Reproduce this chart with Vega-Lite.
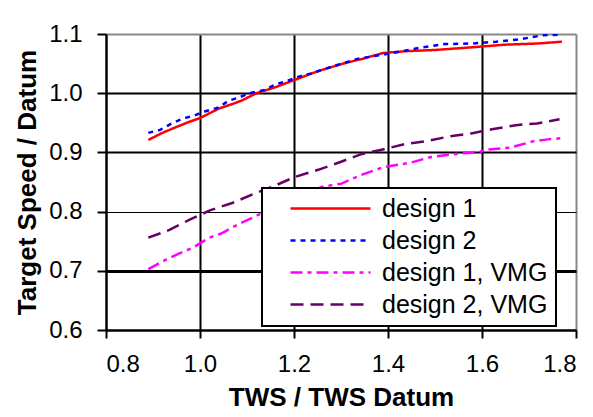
{
  "$schema": "https://vega.github.io/schema/vega-lite/v6.json",
  "width": 470,
  "height": 296,
  "autosize": {"type": "none"},
  "padding": {"left": 106, "top": 34, "right": 17, "bottom": 87},
  "background": "white",
  "config": {
    "view": {"stroke": null},
    "font": "Liberation Sans"
  },
  "data": {
    "values": [
      {"tws": 0.89, "speed": 0.921, "series": "design 1"},
      {"tws": 0.92, "speed": 0.933, "series": "design 1"},
      {"tws": 0.95, "speed": 0.943, "series": "design 1"},
      {"tws": 0.975, "speed": 0.951, "series": "design 1"},
      {"tws": 1.0, "speed": 0.958, "series": "design 1"},
      {"tws": 1.04, "speed": 0.974, "series": "design 1"},
      {"tws": 1.07, "speed": 0.982, "series": "design 1"},
      {"tws": 1.09, "speed": 0.988, "series": "design 1"},
      {"tws": 1.12, "speed": 1.0, "series": "design 1"},
      {"tws": 1.16, "speed": 1.01, "series": "design 1"},
      {"tws": 1.2, "speed": 1.022, "series": "design 1"},
      {"tws": 1.25, "speed": 1.037, "series": "design 1"},
      {"tws": 1.3, "speed": 1.049, "series": "design 1"},
      {"tws": 1.35, "speed": 1.059, "series": "design 1"},
      {"tws": 1.39, "speed": 1.068, "series": "design 1"},
      {"tws": 1.44, "speed": 1.071, "series": "design 1"},
      {"tws": 1.5, "speed": 1.073, "series": "design 1"},
      {"tws": 1.57, "speed": 1.077, "series": "design 1"},
      {"tws": 1.65, "speed": 1.082, "series": "design 1"},
      {"tws": 1.72, "speed": 1.084, "series": "design 1"},
      {"tws": 1.77, "speed": 1.087, "series": "design 1"},

      {"tws": 0.89, "speed": 0.933, "series": "design 2"},
      {"tws": 0.915, "speed": 0.938, "series": "design 2"},
      {"tws": 0.94, "speed": 0.949, "series": "design 2"},
      {"tws": 0.96, "speed": 0.956, "series": "design 2"},
      {"tws": 0.99, "speed": 0.963, "series": "design 2"},
      {"tws": 1.01, "speed": 0.969, "series": "design 2"},
      {"tws": 1.04, "speed": 0.976, "series": "design 2"},
      {"tws": 1.06, "speed": 0.987, "series": "design 2"},
      {"tws": 1.08, "speed": 0.992, "series": "design 2"},
      {"tws": 1.11, "speed": 1.001, "series": "design 2"},
      {"tws": 1.14, "speed": 1.006, "series": "design 2"},
      {"tws": 1.16, "speed": 1.015, "series": "design 2"},
      {"tws": 1.18, "speed": 1.019, "series": "design 2"},
      {"tws": 1.21, "speed": 1.028, "series": "design 2"},
      {"tws": 1.235, "speed": 1.033, "series": "design 2"},
      {"tws": 1.285, "speed": 1.046, "series": "design 2"},
      {"tws": 1.335, "speed": 1.058, "series": "design 2"},
      {"tws": 1.41, "speed": 1.068, "series": "design 2"},
      {"tws": 1.47, "speed": 1.077, "series": "design 2"},
      {"tws": 1.52, "speed": 1.083, "series": "design 2"},
      {"tws": 1.58, "speed": 1.084, "series": "design 2"},
      {"tws": 1.63, "speed": 1.087, "series": "design 2"},
      {"tws": 1.68, "speed": 1.091, "series": "design 2"},
      {"tws": 1.73, "speed": 1.098, "series": "design 2"},
      {"tws": 1.77, "speed": 1.099, "series": "design 2"},

      {"tws": 0.89, "speed": 0.703, "series": "design 1, VMG"},
      {"tws": 0.9, "speed": 0.707, "series": "design 1, VMG"},
      {"tws": 0.93, "speed": 0.72, "series": "design 1, VMG"},
      {"tws": 0.955, "speed": 0.729, "series": "design 1, VMG"},
      {"tws": 0.985, "speed": 0.739, "series": "design 1, VMG"},
      {"tws": 1.02, "speed": 0.756, "series": "design 1, VMG"},
      {"tws": 1.045, "speed": 0.763, "series": "design 1, VMG"},
      {"tws": 1.075, "speed": 0.776, "series": "design 1, VMG"},
      {"tws": 1.12, "speed": 0.793, "series": "design 1, VMG"},
      {"tws": 1.2, "speed": 0.822, "series": "design 1, VMG"},
      {"tws": 1.26, "speed": 0.842, "series": "design 1, VMG"},
      {"tws": 1.3, "speed": 0.847, "series": "design 1, VMG"},
      {"tws": 1.34, "speed": 0.861, "series": "design 1, VMG"},
      {"tws": 1.39, "speed": 0.875, "series": "design 1, VMG"},
      {"tws": 1.45, "speed": 0.883, "series": "design 1, VMG"},
      {"tws": 1.49, "speed": 0.892, "series": "design 1, VMG"},
      {"tws": 1.55, "speed": 0.898, "series": "design 1, VMG"},
      {"tws": 1.59, "speed": 0.9, "series": "design 1, VMG"},
      {"tws": 1.615, "speed": 0.905, "series": "design 1, VMG"},
      {"tws": 1.66, "speed": 0.908, "series": "design 1, VMG"},
      {"tws": 1.71, "speed": 0.919, "series": "design 1, VMG"},
      {"tws": 1.74, "speed": 0.922, "series": "design 1, VMG"},
      {"tws": 1.77, "speed": 0.924, "series": "design 1, VMG"},

      {"tws": 0.89, "speed": 0.756, "series": "design 2, VMG"},
      {"tws": 0.935, "speed": 0.769, "series": "design 2, VMG"},
      {"tws": 0.977, "speed": 0.786, "series": "design 2, VMG"},
      {"tws": 1.021, "speed": 0.802, "series": "design 2, VMG"},
      {"tws": 1.07, "speed": 0.815, "series": "design 2, VMG"},
      {"tws": 1.115, "speed": 0.83, "series": "design 2, VMG"},
      {"tws": 1.16, "speed": 0.844, "series": "design 2, VMG"},
      {"tws": 1.2, "speed": 0.858, "series": "design 2, VMG"},
      {"tws": 1.253, "speed": 0.871, "series": "design 2, VMG"},
      {"tws": 1.296, "speed": 0.883, "series": "design 2, VMG"},
      {"tws": 1.343, "speed": 0.897, "series": "design 2, VMG"},
      {"tws": 1.389, "speed": 0.905, "series": "design 2, VMG"},
      {"tws": 1.436, "speed": 0.914, "series": "design 2, VMG"},
      {"tws": 1.483, "speed": 0.919, "series": "design 2, VMG"},
      {"tws": 1.53, "speed": 0.927, "series": "design 2, VMG"},
      {"tws": 1.577, "speed": 0.932, "series": "design 2, VMG"},
      {"tws": 1.621, "speed": 0.939, "series": "design 2, VMG"},
      {"tws": 1.672, "speed": 0.946, "series": "design 2, VMG"},
      {"tws": 1.717, "speed": 0.949, "series": "design 2, VMG"},
      {"tws": 1.765, "speed": 0.956, "series": "design 2, VMG"}
    ]
  },
  "mark": {"type": "line", "strokeWidth": 2.5, "clip": true},
  "encoding": {
    "x": {
      "field": "tws",
      "type": "quantitative",
      "title": "TWS / TWS Datum",
      "scale": {"domain": [0.8, 1.8], "nice": false, "zero": false},
      "axis": {
        "values": [0.8, 1.0, 1.2, 1.4, 1.6, 1.8],
        "format": ".1f",
        "labelFont": "Liberation Sans",
        "labelFontSize": 24,
        "labelColor": "black",
        "labelPadding": 14,
        "titleFont": "Liberation Sans",
        "titleFontSize": 26,
        "titleFontWeight": "bold",
        "titleColor": "black",
        "titlePadding": 8,
        "domainColor": "black",
        "domainWidth": 2,
        "tickColor": "black",
        "tickWidth": 2,
        "tickSize": 8,
        "grid": true,
        "gridColor": {"condition": {"test": "datum.value > 1.79", "value": "#888888"}, "value": "black"},
        "gridWidth": 2,
        "gridOpacity": 1
      }
    },
    "y": {
      "field": "speed",
      "type": "quantitative",
      "title": "Target Speed / Datum",
      "scale": {"domain": [0.6, 1.1], "nice": false, "zero": false},
      "axis": {
        "values": [0.6, 0.7, 0.8, 0.9, 1.0, 1.1],
        "format": ".1f",
        "labelFont": "Liberation Sans",
        "labelFontSize": 24,
        "labelColor": "black",
        "labelPadding": 15,
        "titleFont": "Liberation Sans",
        "titleFontSize": 26,
        "titleFontWeight": "bold",
        "titleColor": "black",
        "titlePadding": 8,
        "domainColor": "black",
        "domainWidth": 2,
        "tickColor": "black",
        "tickWidth": 2,
        "tickSize": 9,
        "grid": true,
        "gridColor": {"condition": {"test": "datum.value > 1.09", "value": "#888888"}, "value": "black"},
        "gridWidth": {"condition": [
          {"test": "abs(datum.value - 0.8) < 0.01", "value": 1},
          {"test": "abs(datum.value - 0.7) < 0.01", "value": 3}
        ], "value": 2},
        "gridOpacity": 1
      }
    },
    "color": {
      "field": "series",
      "type": "nominal",
      "scale": {
        "domain": ["design 1", "design 2", "design 1, VMG", "design 2, VMG"],
        "range": ["#FF0000", "#0000FF", "#FF00FF", "#660066"]
      },
      "legend": {
        "title": null,
        "orient": "none",
        "legendX": 156,
        "legendY": 154,
        "fillColor": "white",
        "strokeColor": "black",
        "padding": 8,
        "symbolType": "M-4,0L4,0",
        "symbolSize": 400,
        "symbolOffset": 48,
        "symbolStrokeWidth": 2.5,
        "labelOffset": 39,
        "labelFont": "Liberation Sans",
        "labelFontSize": 25,
        "labelColor": "black",
        "labelLimit": 300,
        "rowPadding": 6,
        "encode": {"legend": {"update": {"strokeWidth": {"value": 2}}}}
      }
    },
    "strokeDash": {
      "field": "series",
      "type": "nominal",
      "scale": {
        "domain": ["design 1", "design 2", "design 1, VMG", "design 2, VMG"],
        "range": [[1, 0], [5, 5], [12, 5, 4, 5], [13, 7]]
      },
      "legend": null
    }
  }
}
